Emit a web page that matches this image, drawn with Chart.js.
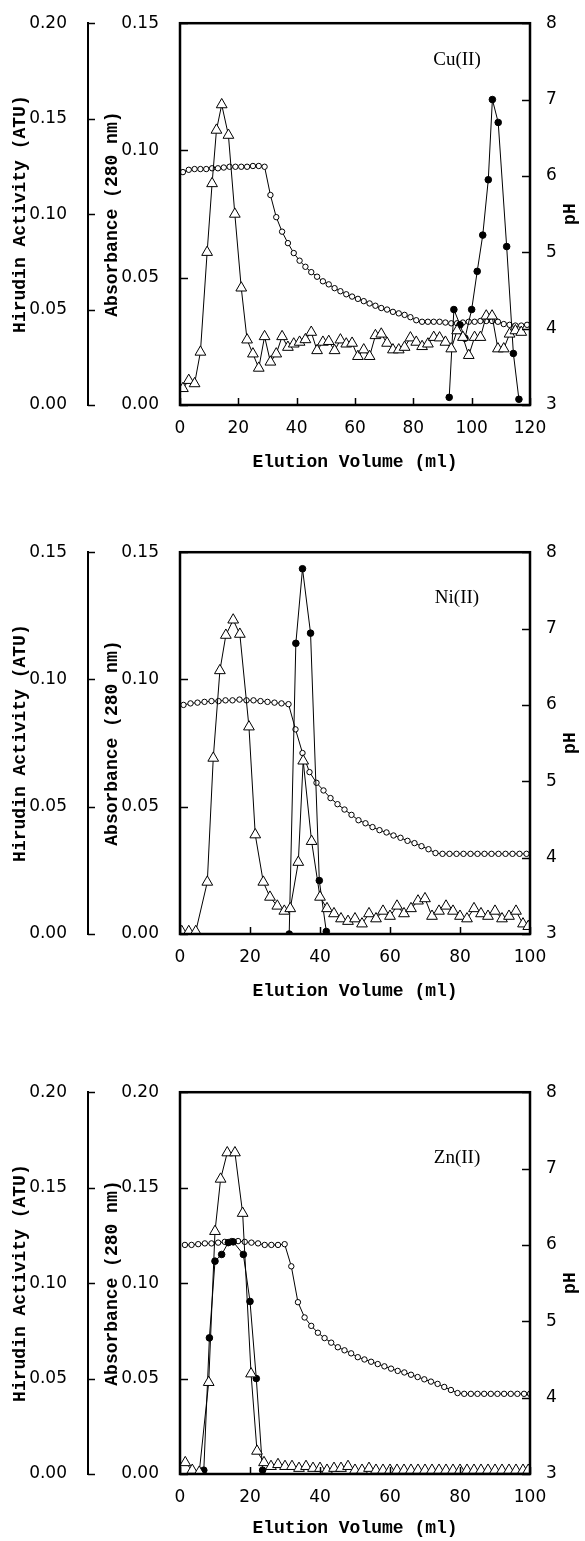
<!DOCTYPE html>
<html>
<head>
<meta charset="utf-8">
<script src="https://cdn.jsdelivr.net/npm/chart.js@4.4.1/dist/chart.umd.min.js"></script>
<style>
  html, body { margin: 0; padding: 0; background: #fff; }
  body { width: 585px; height: 1541px; position: relative; overflow: hidden; }
  canvas { position: absolute; left: 0; }
</style>
</head>
<body>
<canvas id="cuChart" width="585" height="480" style="top:0px"></canvas>
<canvas id="niChart" width="585" height="480" style="top:529px"></canvas>
<canvas id="znChart" width="585" height="472" style="top:1069px"></canvas>
<script>
// ---- Cu(II) column ----
const cuAbsX = [1, 3, 5, 7, 9.3, 11, 12.5, 14.3, 16.6, 18.8, 21, 23, 25, 27, 29, 31, 33, 35, 37, 39, 41, 43, 45, 47, 49, 51, 53, 55, 57, 59, 61, 63, 65, 67, 69, 71, 73, 75, 77, 79, 81, 83, 85, 87, 89, 91, 93, 95, 97, 99, 101, 103, 105, 107, 109, 111, 113, 115, 117];
const cuAbs = [0.0065, 0.0097, 0.0084, 0.0208, 0.060, 0.087, 0.108, 0.118, 0.106, 0.075, 0.046, 0.0256, 0.0201, 0.0145, 0.0269, 0.0169, 0.0201, 0.0269, 0.0227, 0.024, 0.0247, 0.0257, 0.0286, 0.0214, 0.0247, 0.025, 0.0214, 0.0256, 0.024, 0.0243, 0.0191, 0.0217, 0.0191, 0.0273, 0.0279, 0.0243, 0.0217, 0.0217, 0.0227, 0.0264, 0.0247, 0.023, 0.024, 0.0266, 0.0264, 0.0247, 0.0221, 0.0292, 0.0266, 0.0195, 0.0266, 0.0266, 0.035, 0.035, 0.0221, 0.0221, 0.0279, 0.0292, 0.0286];
const cuHirX = [92.3, 93.9, 96.0, 97.7, 100.0, 101.9, 103.8, 105.7, 107.1, 109.1, 112.0, 114.3, 116.2];
const cuHir = [0.004, 0.050, 0.042, 0.035, 0.050, 0.070, 0.089, 0.118, 0.160, 0.148, 0.083, 0.027, 0.003];
const cuPhX = [1, 3, 5, 7, 9, 11, 13, 15, 17, 19, 21, 23, 25, 27, 29, 31, 33, 35, 37, 39, 41, 43, 45, 47, 49, 51, 53, 55, 57, 59, 61, 63, 65, 67, 69, 71, 73, 75, 77, 79, 81, 83, 85, 87, 89, 91, 93, 95, 97, 99, 101, 103, 105, 107, 109, 111, 113, 115, 117, 119];
const cuPh = [6.05, 6.08, 6.09, 6.09, 6.09, 6.10, 6.10, 6.11, 6.12, 6.12, 6.12, 6.12, 6.13, 6.13, 6.12, 5.75, 5.46, 5.27, 5.12, 4.99, 4.89, 4.81, 4.74, 4.68, 4.62, 4.58, 4.53, 4.49, 4.45, 4.42, 4.39, 4.36, 4.33, 4.30, 4.27, 4.25, 4.22, 4.20, 4.18, 4.15, 4.11, 4.09, 4.09, 4.09, 4.09, 4.08, 4.07, 4.07, 4.08, 4.09, 4.09, 4.10, 4.10, 4.10, 4.09, 4.06, 4.05, 4.04, 4.04, 4.05];
const cuXTicks = [0, 20, 40, 60, 80, 100, 120];
const cuHirTicks = [0, 0.05, 0.10, 0.15, 0.20];
const cuAbsTicks = [0, 0.05, 0.10, 0.15];

// ---- Ni(II) column ----
const niAbsX = [0.5, 2.5, 4.5, 7.8, 9.5, 11.4, 13.1, 15.2, 17.1, 19.7, 21.5, 23.8, 25.7, 27.8, 29.8, 31.5, 33.8, 35.2, 37.6, 40.0, 42, 44, 46, 48, 50, 52, 54, 56, 58, 60, 62, 64, 66, 68, 70, 72, 74, 76, 78, 80, 82, 84, 86, 88, 90, 92, 94, 96, 98, 99.5];
const niAbs = [0.001, 0.001, 0.001, 0.0204, 0.0691, 0.1035, 0.1174, 0.1234, 0.1178, 0.0814, 0.039, 0.0204, 0.0145, 0.011, 0.009, 0.010, 0.0282, 0.068, 0.0364, 0.0145, 0.010, 0.008, 0.006, 0.005, 0.006, 0.004, 0.008, 0.006, 0.009, 0.007, 0.011, 0.008, 0.010, 0.013, 0.0139, 0.007, 0.009, 0.011, 0.009, 0.007, 0.006, 0.010, 0.008, 0.007, 0.009, 0.006, 0.007, 0.009, 0.004, 0.003];
const niHirX = [31.2, 33.1, 35.0, 37.3, 39.8, 41.8];
const niHir = [0.0, 0.1142, 0.1435, 0.1182, 0.021, 0.001];
const niPhX = [1, 3, 5, 7, 9, 11, 13, 15, 17, 19, 21, 23, 25, 27, 29, 31, 33, 35, 37, 39, 41, 43, 45, 47, 49, 51, 53, 55, 57, 59, 61, 63, 65, 67, 69, 71, 73, 75, 77, 79, 81, 83, 85, 87, 89, 91, 93, 95, 97, 99];
const niPh = [6.00, 6.02, 6.03, 6.04, 6.05, 6.05, 6.06, 6.06, 6.07, 6.06, 6.06, 6.05, 6.04, 6.03, 6.02, 6.01, 5.68, 5.37, 5.12, 4.98, 4.88, 4.78, 4.70, 4.63, 4.56, 4.49, 4.45, 4.40, 4.36, 4.33, 4.29, 4.26, 4.22, 4.19, 4.15, 4.11, 4.06, 4.05, 4.05, 4.05, 4.05, 4.05, 4.05, 4.05, 4.05, 4.05, 4.05, 4.05, 4.05, 4.05];
const niXTicks = [0, 20, 40, 60, 80, 100];
const niHirTicks = [0, 0.05, 0.10, 0.15];
const niAbsTicks = [0, 0.05, 0.10, 0.15];

// ---- Zn(II) column ----
const znAbsX = [1.5, 3.5, 5.5, 8.2, 10.0, 11.6, 13.5, 15.7, 17.9, 20.3, 22.0, 24, 26, 28, 30, 32, 34, 36, 38, 40, 42, 44, 46, 48, 50, 52, 54, 56, 58, 60, 62, 64, 66, 68, 70, 72, 74, 76, 78, 80, 82, 84, 86, 88, 90, 92, 94, 96, 98, 99.5];
const znAbs = [0.006, 0.002, 0.001, 0.048, 0.1271, 0.1545, 0.1683, 0.1683, 0.1366, 0.0525, 0.012, 0.006, 0.004, 0.005, 0.004, 0.004, 0.003, 0.004, 0.003, 0.003, 0.002, 0.003, 0.003, 0.004, 0.002, 0.002, 0.003, 0.002, 0.002, 0.002, 0.002, 0.002, 0.002, 0.002, 0.002, 0.002, 0.002, 0.002, 0.002, 0.002, 0.002, 0.002, 0.002, 0.002, 0.002, 0.002, 0.002, 0.002, 0.002, 0.002];
const znHirX = [6.8, 8.4, 10.0, 11.9, 13.8, 15.2, 18.1, 20.0, 21.8, 23.6];
const znHir = [0.002, 0.0713, 0.1115, 0.115, 0.1212, 0.1216, 0.115, 0.0904, 0.050, 0.002];
const znPhX = [1.4, 3.3, 5.2, 7.1, 9.0, 10.9, 12.8, 14.7, 16.6, 18.5, 20.4, 22.3, 24.2, 26.1, 28.0, 29.9, 31.8, 33.7, 35.6, 37.5, 39.4, 41.3, 43.2, 45.1, 47.0, 48.9, 50.8, 52.7, 54.6, 56.5, 58.4, 60.3, 62.2, 64.1, 66.0, 67.9, 69.8, 71.7, 73.6, 75.5, 77.4, 79.3, 81.2, 83.1, 85.0, 86.9, 88.8, 90.7, 92.6, 94.5, 96.4, 98.3, 100];
const znPh = [6.00, 6.00, 6.01, 6.02, 6.02, 6.03, 6.04, 6.05, 6.05, 6.04, 6.03, 6.02, 6.00, 6.00, 6.00, 6.01, 5.72, 5.25, 5.05, 4.94, 4.85, 4.78, 4.72, 4.66, 4.62, 4.58, 4.53, 4.50, 4.47, 4.44, 4.41, 4.38, 4.35, 4.33, 4.30, 4.27, 4.24, 4.21, 4.18, 4.14, 4.10, 4.06, 4.05, 4.05, 4.05, 4.05, 4.05, 4.05, 4.05, 4.05, 4.05, 4.05, 4.05];
const znXTicks = [0, 20, 40, 60, 80, 100];
const znHirTicks = [0, 0.05, 0.10, 0.15, 0.20];
const znAbsTicks = [0, 0.05, 0.10, 0.15, 0.20];

const phTicks = [3, 4, 5, 6, 7, 8];

const tickFont = { family: 'DejaVu Sans', size: 17 };
const titleFont = { family: 'Liberation Mono', size: 18, weight: 'bold' };

const toPoints = (xs, ys) => xs.map((x, i) => ({ x: x, y: ys[i] }));

// inward tick marks, plot frame, pH title and metal label
const panelDecor = {
  id: 'panelDecor',
  afterDraw(chart, args, opts) {
    const ctx = chart.ctx, a = chart.chartArea;
    ctx.save();
    ctx.strokeStyle = '#000';
    ctx.lineWidth = 1.5;
    Object.values(chart.scales).forEach(s => {
      const len = opts.tickLen[s.id];
      s.ticks.forEach(t => {
        const p = Math.round(s.getPixelForValue(t.value)) + 0.5;
        ctx.beginPath();
        if (s.axis === 'x') { ctx.moveTo(p, a.bottom); ctx.lineTo(p, a.bottom - len); }
        else if (s.position === 'right') { ctx.moveTo(a.right, p); ctx.lineTo(a.right - len, p); }
        else { ctx.moveTo(s.right, p); ctx.lineTo(s.right + len, p); }
        ctx.stroke();
      });
    });
    ctx.lineWidth = 2.5;
    ctx.strokeRect(a.left, a.top, a.right - a.left, a.bottom - a.top);

    ctx.fillStyle = '#000';
    ctx.textAlign = 'center';
    ctx.textBaseline = 'middle';
    ctx.font = 'bold 18px "Liberation Mono"';
    ctx.save();
    ctx.translate(570, (a.top + a.bottom) / 2);
    ctx.rotate(-Math.PI / 2);
    ctx.fillText('pH', 0, 0);
    ctx.restore();

    ctx.font = '19px "Liberation Serif"';
    ctx.fillText(opts.metal, opts.metalX, a.top + opts.metalDy);
    ctx.restore();
  }
};

function makePanel(id, p) {
  const line = { borderColor: '#000', borderWidth: 1, tension: 0, showLine: true };
  new Chart(document.getElementById(id), {
    type: 'line',
    data: {
      datasets: [
        Object.assign({ data: toPoints(p.absX, p.abs), yAxisID: 'yA', pointStyle: 'triangle', pointRadius: 6.2,
          pointBorderWidth: 1, pointBackgroundColor: '#fff', pointBorderColor: '#000' }, line),
        Object.assign({ data: toPoints(p.hirX, p.hir), yAxisID: 'yH', pointStyle: 'circle', pointRadius: 3.3,
          pointBorderWidth: 1, pointBackgroundColor: '#000', pointBorderColor: '#000' }, line),
        Object.assign({ data: toPoints(p.phX, p.ph), yAxisID: 'yP', pointStyle: 'circle', pointRadius: 2.7,
          pointBorderWidth: 1, pointBackgroundColor: '#fff', pointBorderColor: '#000' }, line)
      ]
    },
    options: {
      responsive: false,
      animation: false,
      events: [],
      layout: { padding: { top: 20, bottom: p.padBottom, left: 0, right: 0 } },
      plugins: {
        legend: { display: false },
        tooltip: { enabled: false },
        panelDecor: { metal: p.metal, metalX: 457, metalDy: p.metalDy, tickLen: { x: 7, yA: 8, yH: 7, yP: 8 } }
      },
      scales: {
        x: {
          type: 'linear', min: 0, max: p.xMax,
          grid: { display: false }, border: { display: false },
          afterBuildTicks: s => { s.ticks = p.xTicks.map(v => ({ value: v })); },
          afterFit: s => { s.height = p.xHeight; },
          ticks: { font: tickFont, color: '#000', padding: 5, maxRotation: 0, autoSkip: false },
          title: { display: true, text: 'Elution Volume (ml)', font: titleFont, color: '#000', padding: { top: 0, bottom: 2 } }
        },
        yA: {
          type: 'linear', position: 'left', weight: 0, min: 0, max: p.absMax,
          grid: { display: false }, border: { display: false },
          afterBuildTicks: s => { s.ticks = p.absTicks.map(v => ({ value: v })); },
          afterFit: s => { s.width = 92; },
          ticks: { font: tickFont, color: '#000', padding: 13, callback: v => v.toFixed(2) },
          title: { display: true, text: 'Absorbance (280 nm)', font: titleFont, color: '#000', padding: { top: 14, bottom: 0 } }
        },
        yH: {
          type: 'linear', position: 'left', weight: 1, min: 0, max: p.hirMax,
          grid: { display: false }, border: { display: true, color: '#000', width: 2 },
          afterBuildTicks: s => { s.ticks = p.hirTicks.map(v => ({ value: v })); },
          afterFit: s => { s.width = 88; },
          ticks: { font: tickFont, color: '#000', padding: 13, callback: v => v.toFixed(2) },
          title: { display: true, text: 'Hirudin Activity (ATU)', font: titleFont, color: '#000', padding: { top: 10, bottom: 0 } }
        },
        yP: {
          type: 'linear', position: 'right', min: 3, max: 8,
          grid: { display: false }, border: { display: false },
          afterBuildTicks: s => { s.ticks = phTicks.map(v => ({ value: v })); },
          afterFit: s => { s.width = 55; },
          ticks: { font: tickFont, color: '#000', padding: 8 }
        }
      }
    },
    plugins: [panelDecor]
  });
}

makePanel('cuChart', {
  absX: cuAbsX, abs: cuAbs, hirX: cuHirX, hir: cuHir, phX: cuPhX, ph: cuPh,
  xMax: 120, xTicks: cuXTicks, absMax: 0.15, absTicks: cuAbsTicks, hirMax: 0.20, hirTicks: cuHirTicks,
  metal: 'Cu(II)', metalDy: 37, xHeight: 70, padBottom: 5
});
makePanel('niChart', {
  absX: niAbsX, abs: niAbs, hirX: niHirX, hir: niHir, phX: niPhX, ph: niPh,
  xMax: 100, xTicks: niXTicks, absMax: 0.15, absTicks: niAbsTicks, hirMax: 0.15, hirTicks: niHirTicks,
  metal: 'Ni(II)', metalDy: 46, xHeight: 70, padBottom: 5
});
makePanel('znChart', {
  absX: znAbsX, abs: znAbs, hirX: znHirX, hir: znHir, phX: znPhX, ph: znPh,
  xMax: 100, xTicks: znXTicks, absMax: 0.20, absTicks: znAbsTicks, hirMax: 0.20, hirTicks: znHirTicks,
  metal: 'Zn(II)', metalDy: 66, xHeight: 67, padBottom: 0
});
</script>
</body>
</html>
